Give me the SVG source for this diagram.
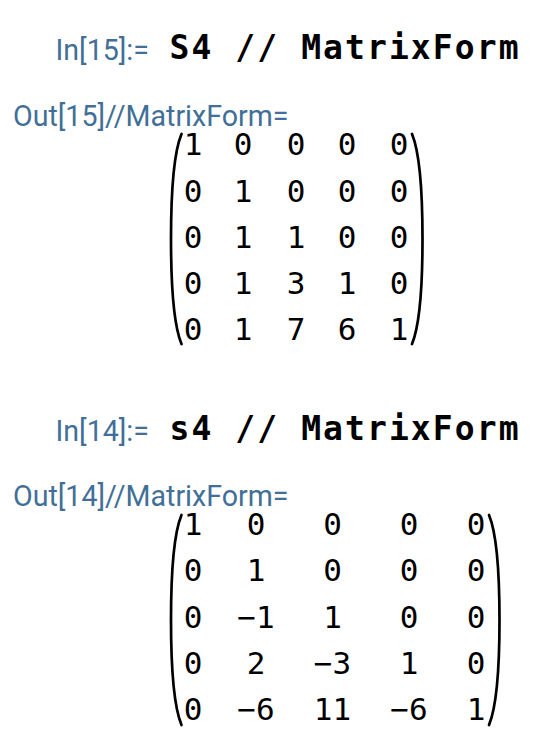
<svg xmlns="http://www.w3.org/2000/svg" width="534" height="738" viewBox="0 0 534 738">
<style>
.lbl{font-family:Roboto,"Liberation Sans",sans-serif;font-size:28.6px;fill:#416f98}
.inp{font-family:"DejaVu Sans Mono","Liberation Mono",monospace;font-weight:bold;font-size:33px;fill:#000}
.m{font-family:"DejaVu Sans Mono","Liberation Mono",monospace;font-size:31px;fill:#000;text-anchor:middle}
.par{fill:none;stroke:#000;stroke-width:2.7;stroke-linecap:round}
</style>
<rect width="534" height="738" fill="#fff"/>
<g id="in15">
<text class="lbl" x="55.5" y="60">In[15]:=</text>
<text class="inp" x="169.5" y="59" textLength="349" lengthAdjust="spacing">S4 // MatrixForm</text>
</g>
<g id="out15">
<text class="lbl" x="13" y="126">Out[15]//MatrixForm=</text>
<path class="par" d="M181.5,134 C174,152 171,192 171,239 C171,286 174,326 181.5,344"/>
<path class="par" d="M412,134 C419.5,152 422.5,192 422.5,239 C422.5,286 419.5,326 412,344"/>
<g>
<text class="m" x="193" y="155">1</text><text class="m" x="243" y="155">0</text><text class="m" x="296" y="155">0</text><text class="m" x="347" y="155">0</text><text class="m" x="399" y="155">0</text>
<text class="m" x="193" y="201.5">0</text><text class="m" x="243" y="201.5">1</text><text class="m" x="296" y="201.5">0</text><text class="m" x="347" y="201.5">0</text><text class="m" x="399" y="201.5">0</text>
<text class="m" x="193" y="247.5">0</text><text class="m" x="243" y="247.5">1</text><text class="m" x="296" y="247.5">1</text><text class="m" x="347" y="247.5">0</text><text class="m" x="399" y="247.5">0</text>
<text class="m" x="193" y="293.5">0</text><text class="m" x="243" y="293.5">1</text><text class="m" x="296" y="293.5">3</text><text class="m" x="347" y="293.5">1</text><text class="m" x="399" y="293.5">0</text>
<text class="m" x="193" y="340">0</text><text class="m" x="243" y="340">1</text><text class="m" x="296" y="340">7</text><text class="m" x="347" y="340">6</text><text class="m" x="399" y="340">1</text>
</g>
</g>
<g id="in14">
<text class="lbl" x="55.5" y="441">In[14]:=</text>
<text class="inp" x="169.5" y="440" textLength="349" lengthAdjust="spacing">s4 // MatrixForm</text>
</g>
<g id="out14">
<text class="lbl" x="13" y="506">Out[14]//MatrixForm=</text>
<path class="par" d="M181.5,515 C174,533 171,573 171,620 C171,667 174,707 181.5,725"/>
<path class="par" d="M489,515 C496.5,533 499.5,573 499.5,620 C499.5,667 496.5,707 489,725"/>
<g>
<text class="m" x="193" y="535">1</text><text class="m" x="256" y="535">0</text><text class="m" x="332.5" y="535">0</text><text class="m" x="409" y="535">0</text><text class="m" x="476" y="535">0</text>
<text class="m" x="193" y="581">0</text><text class="m" x="256" y="581">1</text><text class="m" x="332.5" y="581">0</text><text class="m" x="409" y="581">0</text><text class="m" x="476" y="581">0</text>
<text class="m" x="193" y="627.5">0</text><text class="m" x="256" y="627.5">−1</text><text class="m" x="332.5" y="627.5">1</text><text class="m" x="409" y="627.5">0</text><text class="m" x="476" y="627.5">0</text>
<text class="m" x="193" y="674">0</text><text class="m" x="256" y="674">2</text><text class="m" x="332.5" y="674">−3</text><text class="m" x="409" y="674">1</text><text class="m" x="476" y="674">0</text>
<text class="m" x="193" y="720">0</text><text class="m" x="256" y="720">−6</text><text class="m" x="332.5" y="720">11</text><text class="m" x="409" y="720">−6</text><text class="m" x="476" y="720">1</text>
</g>
</g>
</svg>
